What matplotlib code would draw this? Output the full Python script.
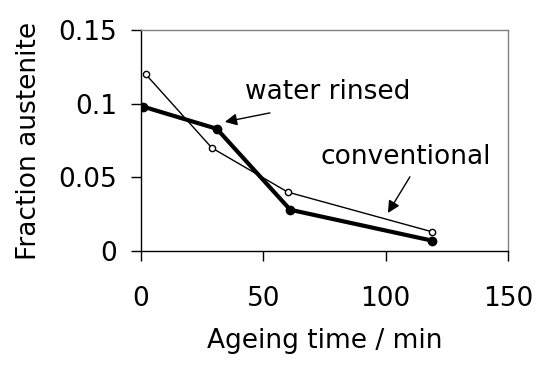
import matplotlib
matplotlib.use("Agg")
import matplotlib.pyplot as plt

conv_t = [2, 29, 60, 119]
conv_f = [0.120, 0.070, 0.040, 0.013]
water_t = [1, 31, 61, 119]
water_f = [0.098, 0.083, 0.028, 0.007]

xticks = [0, 50, 100, 150]
yticks = [0, 0.05, 0.1, 0.15]
yticklabels = ["0", "0.05", "0.1", "0.15"]

plt.rcParams['font.family'] = ['DejaVu Sans']
fig = plt.figure(figsize=(5.44, 3.68), dpi=100)
ax = fig.add_axes([0.259, 0.318, 0.675, 0.600])

ax.plot(conv_t, conv_f, color='black', lw=1.0, marker='o', ms=4.5,
        mfc='white', mec='black', mew=1.0, zorder=3)
ax.plot(water_t, water_f, color='black', lw=3.0, marker='o', ms=6,
        mfc='black', mec='black', zorder=4)

ax.set_xlim(0, 150)
ax.set_ylim(0, 0.15)
ax.set_xticks(xticks)
ax.set_xticklabels([str(v) for v in xticks])
ax.set_yticks(yticks)
ax.set_yticklabels(yticklabels)

for s in ['top', 'right']:
    ax.spines[s].set_color('#808080')
for s in ['left', 'bottom']:
    ax.spines[s].set_color('black')
for s in ax.spines.values():
    s.set_linewidth(1.0)

fs = 19
ax.tick_params(axis='both', direction='out', length=7, width=1,
               labelsize=fs, colors='black')
ax.tick_params(axis='x', pad=18)
ax.tick_params(axis='y', pad=10)

ax.set_xlabel('Ageing time / min', fontsize=fs, labelpad=12)
ax.set_ylabel('Fraction austenite', fontsize=fs, labelpad=12)

ax.text(42.5, 0.108, 'water rinsed', fontsize=fs, va='center', ha='left')
ax.annotate('', xy=(34.3, 0.0877), xytext=(52.7, 0.0938),
            arrowprops=dict(arrowstyle='-|>', color='black', lw=1.0,
                            mutation_scale=18, shrinkA=0, shrinkB=0))
ax.text(73.2, 0.0638, 'conventional', fontsize=fs, va='center', ha='left')
ax.annotate('', xy=(100.9, 0.0258), xytext=(109.9, 0.0504),
            arrowprops=dict(arrowstyle='-|>', color='black', lw=1.0,
                            mutation_scale=18, shrinkA=0, shrinkB=0))

fig.savefig('out.png', dpi=100)
